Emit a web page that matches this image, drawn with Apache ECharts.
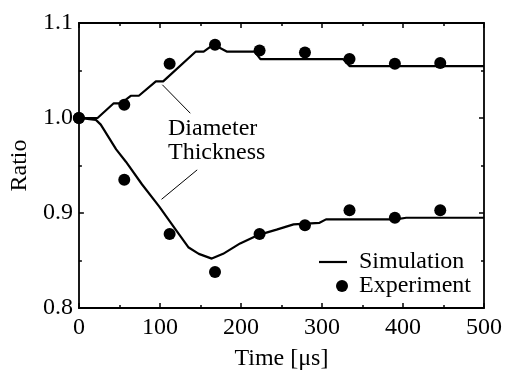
<!DOCTYPE html>
<html>
<head>
<meta charset="utf-8">
<script src="https://cdn.jsdelivr.net/npm/echarts@6/dist/echarts.min.js"></script>
<style>
html,body{margin:0;padding:0;background:#fff;}
#main{width:505px;height:376px;}
</style>
</head>
<body>
<div id="main"></div>
<script>
// ---- data ----
const xTicks = [0, 100, 200, 300, 400, 500];
const yTicks = [0.8, 0.9, 1.0, 1.1];

const expTime = [0, 56, 112, 168, 223, 279, 334, 390, 446];
const expDiameter = [1.000, 1.014, 1.057, 1.077, 1.071, 1.069, 1.062, 1.057, 1.058];
const expThickness = [1.000, 0.935, 0.878, 0.838, 0.878, 0.887, 0.903, 0.895, 0.903];

const simDiameterTime = [0, 23, 43, 52, 64, 74, 95, 104, 144, 154, 166, 183, 217, 224, 326, 334, 500];
const simDiameter = [1.000, 1.000, 1.0155, 1.0155, 1.0234, 1.0234, 1.0385, 1.0385, 1.0698, 1.0698, 1.0773, 1.0698, 1.0698, 1.062, 1.062, 1.0547, 1.0547];

const simThicknessTime = [0, 21, 27, 46, 58, 78, 99, 119, 135, 148, 164, 178, 199, 222, 244, 265, 297, 305, 391, 404, 500];
const simThickness = [1.000, 0.998, 0.993, 0.967, 0.954, 0.930, 0.907, 0.883, 0.864, 0.857, 0.852, 0.857, 0.868, 0.877, 0.8825, 0.888, 0.8897, 0.8933, 0.8933, 0.895, 0.895];

// leader lines (data coordinates) for annotations
const diameterLeader = [[103, 1.035], [137.5, 1.005]];
const thicknessLeader = [[102, 0.9144], [146, 0.9454]];

const zip = (a, b) => a.map((v, i) => [v, b[i]]);

const FONT = "'Liberation Serif', 'Times New Roman', Times, serif";
const fs = 24;

const chart = echarts.init(document.getElementById('main'), null, {renderer: 'canvas'});

const axisLineStyle = {color: '#000', width: 1.8};
const tickStyle = {color: '#000', width: 1.5};

function xAxisDef(pos, showLabel) {
  return {
    type: 'value', position: pos, min: 0, max: 500, interval: 100,
    axisLine: {show: true, onZero: false, lineStyle: axisLineStyle},
    axisTick: {show: true, inside: true, length: 5, lineStyle: tickStyle},
    minorTick: {show: true, splitNumber: 2, length: 3, lineStyle: tickStyle},
    splitLine: {show: false},
    axisLabel: {show: showLabel, margin: 8, color: '#000', fontFamily: FONT, fontSize: fs},
    name: showLabel ? 'Time [μs]' : '',
    nameLocation: 'middle', nameGap: 39,
    nameTextStyle: {color: '#000', fontFamily: FONT, fontSize: fs}
  };
}
function yAxisDef(pos, showLabel) {
  return {
    type: 'value', position: pos, min: 0.8, max: 1.1, interval: 0.1,
    axisLine: {show: true, onZero: false, lineStyle: axisLineStyle},
    axisTick: {show: true, inside: true, length: 5, lineStyle: tickStyle},
    minorTick: {show: true, splitNumber: 2, length: 3, lineStyle: tickStyle},
    splitLine: {show: false},
    axisLabel: {show: showLabel, margin: 6, color: '#000', fontFamily: FONT, fontSize: fs,
      padding: [4, 0, 0, 0],
      formatter: v => v.toFixed(1)},
    name: showLabel ? 'Ratio' : '',
    nameLocation: 'middle', nameGap: 45, nameRotate: 90,
    nameTextStyle: {color: '#000', fontFamily: FONT, fontSize: fs}
  };
}

const option = {
  animation: false,
  backgroundColor: '#fff',
  grid: {left: 78, right: 20, top: 23, bottom: 62, containLabel: false},
  xAxis: [xAxisDef('bottom', true), xAxisDef('top', false)],
  yAxis: [yAxisDef('left', true), yAxisDef('right', false)],
  legend: [
    {
      data: [{name: 'Simulation', icon: 'rect'}], left: 319, top: 250, orient: 'vertical',
      itemWidth: 28, itemHeight: 2.2, itemGap: 0, padding: 0,
      selectedMode: false,
      itemStyle: {color: '#000'},
      textStyle: {color: '#000', fontFamily: FONT, fontSize: fs, padding: [0, 0, 0, 7]}
    },
    {
      data: [{name: 'Experiment', icon: 'circle'}], left: 336, top: 274, orient: 'vertical',
      itemWidth: 12, itemHeight: 12, itemGap: 0, padding: 0,
      selectedMode: false,
      itemStyle: {color: '#000', opacity: 1},
      textStyle: {color: '#000', fontFamily: FONT, fontSize: fs, padding: [0, 0, 0, 6]}
    }
  ],
  series: [
    {
      name: 'Simulation', type: 'line', data: zip(simDiameterTime, simDiameter),
      symbol: 'none', showSymbol: false, color: '#000',
      lineStyle: {color: '#000', width: 2.2}, z: 3,
      markLine: {
        silent: true, symbol: 'none', animation: false,
        label: {show: false},
        lineStyle: {color: '#000', width: 1, type: 'solid'},
        data: [
          [{coord: diameterLeader[0]}, {coord: diameterLeader[1]}],
          [{coord: thicknessLeader[0]}, {coord: thicknessLeader[1]}]
        ]
      }
    },
    {
      name: 'Simulation', type: 'line', data: zip(simThicknessTime, simThickness),
      symbol: 'none', showSymbol: false, color: '#000',
      lineStyle: {color: '#000', width: 2.2}, z: 3
    },
    {
      name: 'Experiment', type: 'scatter', data: zip(expTime, expDiameter),
      symbol: 'circle', symbolSize: 12, itemStyle: {color: '#000', opacity: 1}, z: 4
    },
    {
      name: 'Experiment', type: 'scatter', data: zip(expTime, expThickness),
      symbol: 'circle', symbolSize: 12, itemStyle: {color: '#000', opacity: 1}, z: 4
    }
  ],
  graphic: [
    {type: 'text', left: 168, top: 117, style: {text: 'Diameter', fill: '#000', font: fs + 'px ' + FONT}},
    {type: 'text', left: 168, top: 141, style: {text: 'Thickness', fill: '#000', font: fs + 'px ' + FONT}}
  ]
};
chart.setOption(option);
</script>
</body>
</html>
